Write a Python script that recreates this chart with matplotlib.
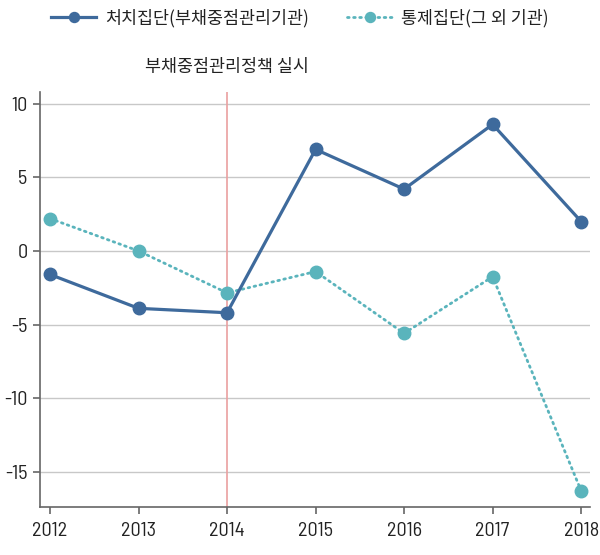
import matplotlib.pyplot as plt
import matplotlib.font_manager as fm

years = [2012, 2013, 2014, 2015, 2016, 2017, 2018]
treated = [-1.6, -3.9, -4.2, 6.9, 4.2, 8.6, 2.0]
control = [2.2, 0.0, -2.85, -1.4, -5.6, -1.75, -16.3]
treated_label = '처치집단(부채중점관리기관)'
control_label = '통제집단(그 외 기관)'
policy_year = 2014
policy_text = '부채중점관리정책 실시'

kr = ['Noto Sans CJK KR', 'DejaVu Sans']
names = {f.name for f in fm.fontManager.ttflist}
if 'Barlow Semi Condensed' in names:
    tick_prop = fm.FontProperties(family='Barlow Semi Condensed', weight=400, size=14.5)
else:
    tick_prop = fm.FontProperties(family='DejaVu Sans', stretch='condensed', size=12)

fig = plt.figure(figsize=(6, 5.55), dpi=100)
ax = fig.add_axes([40/600, 1-507/555, 550/600, (507-92)/555])

ax.plot(years, treated, color='#3e6a9c', lw=2.3, marker='o', ms=9,
        label=treated_label, zorder=4)
ax.plot(years, control, color='#5ab4bc', lw=2.0, ls=(0, (0.6, 1.6)), marker='o',
        ms=9, dash_capstyle='round', label=control_label, zorder=3)
ax.axvline(policy_year, color='#eaa0a0', lw=1.2, zorder=2)

ax.set_xlim(2011.887, 2018.10)
ax.set_ylim(-17.4, 10.8)
ax.set_yticks([10, 5, 0, -5, -10, -15])
ax.set_xticks(years)
ax.grid(axis='y', color='#c8c8c8', lw=1)
ax.set_axisbelow(True)
for s in ['top', 'right']:
    ax.spines[s].set_visible(False)
for s in ['left', 'bottom']:
    ax.spines[s].set_color('#666666')
    ax.spines[s].set_linewidth(1.2)
ax.tick_params(axis='both', colors='#666666', labelcolor='#222222', length=5, width=1.2)
ax.tick_params(axis='x', pad=6)
ax.tick_params(axis='y', pad=4)
ax.set_yticklabels(['10', '5', '0', '-5', '-10', '-15'])
for lab in ax.get_xticklabels() + ax.get_yticklabels():
    lab.set_fontproperties(tick_prop)

ax.text(policy_year, 11.9, policy_text, ha='center', va='bottom', fontsize=12.5,
        family=kr, color='#222222')

fig.legend(loc='center', bbox_to_anchor=(0.5, 1-18/555), ncol=2, frameon=False,
           prop={'family': kr, 'size': 12.5}, handlelength=2.6, columnspacing=2.2,
           handletextpad=0.5, labelcolor='#222222', markerscale=0.8)

fig.savefig('out.png', dpi=100)
